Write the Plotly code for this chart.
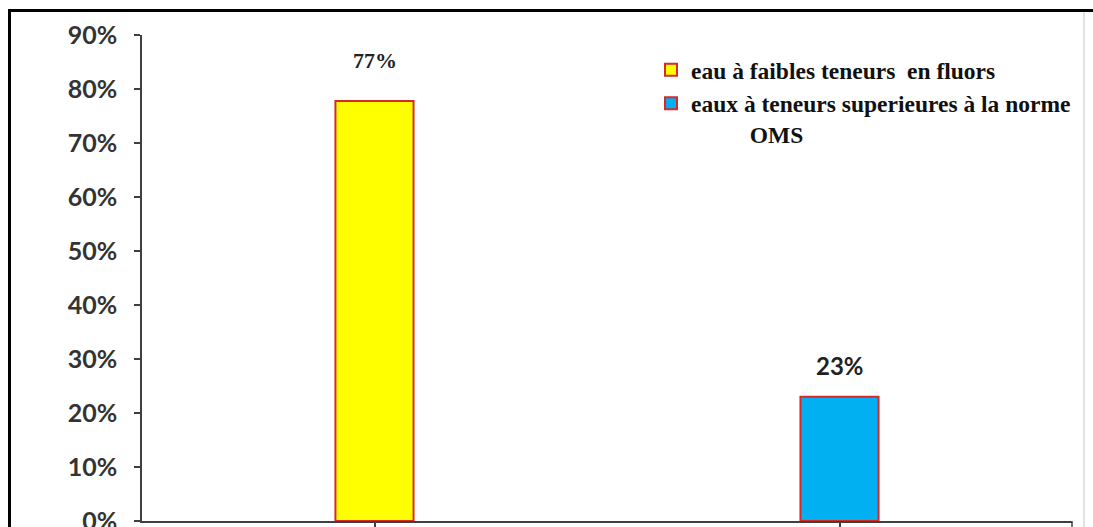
import plotly.graph_objects as go

# ---- data ----
categories = ["eau à faibles teneurs  en fluors",
              "eaux à teneurs superieures à la norme<br>" + "\u00a0" * 10 + "OMS"]
values = [0.778, 0.23]
value_labels = ["77%", "23%"]
y_ticks = [0, 0.1, 0.2, 0.3, 0.4, 0.5, 0.6, 0.7, 0.8, 0.9]
y_tick_labels = ["0%", "10%", "20%", "30%", "40%", "50%", "60%", "70%", "80%", "90%"]

# ---- style ----
colors = ["#FFFF00", "#00B0F0"]
label_fonts = [dict(family="Liberation Serif", size=22), dict(family="Lato", size=24)]
label_shift = [26, 15]

W, H = 1093, 527
L, R, T, B = 142, 1072, 35, 521

fig = go.Figure()
for i, (cat, v) in enumerate(zip(categories, values)):
    fig.add_trace(go.Bar(
        x=[i], y=[v], name=cat, width=0.168,
        marker=dict(color=colors[i], line=dict(color="#D82828", width=2)),
        showlegend=True,
    ))
    fig.add_annotation(x=i, y=v, text=value_labels[i], showarrow=False,
                       yanchor="bottom", yshift=label_shift[i],
                       font=dict(color="#222222", weight="bold", **label_fonts[i]))

def px(x):
    return (x - L) / (R - L)

def py(y):
    return (B - y) / (B - T)

shapes = [
    # outer frame (left and top)
    dict(type="line", xref="paper", yref="paper", x0=px(9.5), x1=px(9.5), y0=py(9.5), y1=py(540),
         line=dict(color="black", width=3)),
    dict(type="line", xref="paper", yref="paper", x0=px(8), x1=px(1100), y0=py(10.5), y1=py(10.5),
         line=dict(color="black", width=3)),
    # light gray right border
    dict(type="line", xref="paper", yref="paper", x0=px(1084), x1=px(1084), y0=py(12), y1=py(540),
         line=dict(color="#E2E2E2", width=2)),
    # end tick of x axis
    dict(type="line", xref="paper", yref="paper", x0=1, x1=1, y0=0, y1=py(528),
         line=dict(color="#404040", width=1.5)),
]

fig.update_layout(
    width=W, height=H,
    margin=dict(l=L, r=W - R, t=T, b=H - B, autoexpand=False),
    paper_bgcolor="white", plot_bgcolor="white",
    shapes=shapes,
    legend=dict(x=px(651), y=py(48), xanchor="left", yanchor="top",
                bgcolor="rgba(0,0,0,0)", traceorder="normal", valign="top",
                font=dict(family="Liberation Serif", size=23.5, color="#111111", weight="bold"),
                itemwidth=30, tracegroupgap=0),
    xaxis=dict(range=[-0.5, 1.5], tickvals=[0, 1], ticktext=["", ""], showticklabels=False,
               showline=True, linecolor="#404040", linewidth=1.5,
               ticks="outside", ticklen=7, tickcolor="#404040", tickwidth=1.5,
               showgrid=False, zeroline=False, automargin=False),
    yaxis=dict(range=[0, 0.9], tickvals=y_ticks, ticktext=y_tick_labels,
               showline=True, linecolor="#404040", linewidth=1.5,
               ticks="outside", ticklen=6, tickcolor="#404040", tickwidth=1.5,
               ticklabelstandoff=12, ticklabeloverflow="allow",
               showgrid=False, zeroline=False, automargin=False,
               tickfont=dict(family="Lato", size=25, color="#333333", weight="bold")),
)

fig.write_html("out.html", config={"displayModeBar": False},
               post_script="document.body.style.margin='0';document.body.style.overflow='hidden';")
